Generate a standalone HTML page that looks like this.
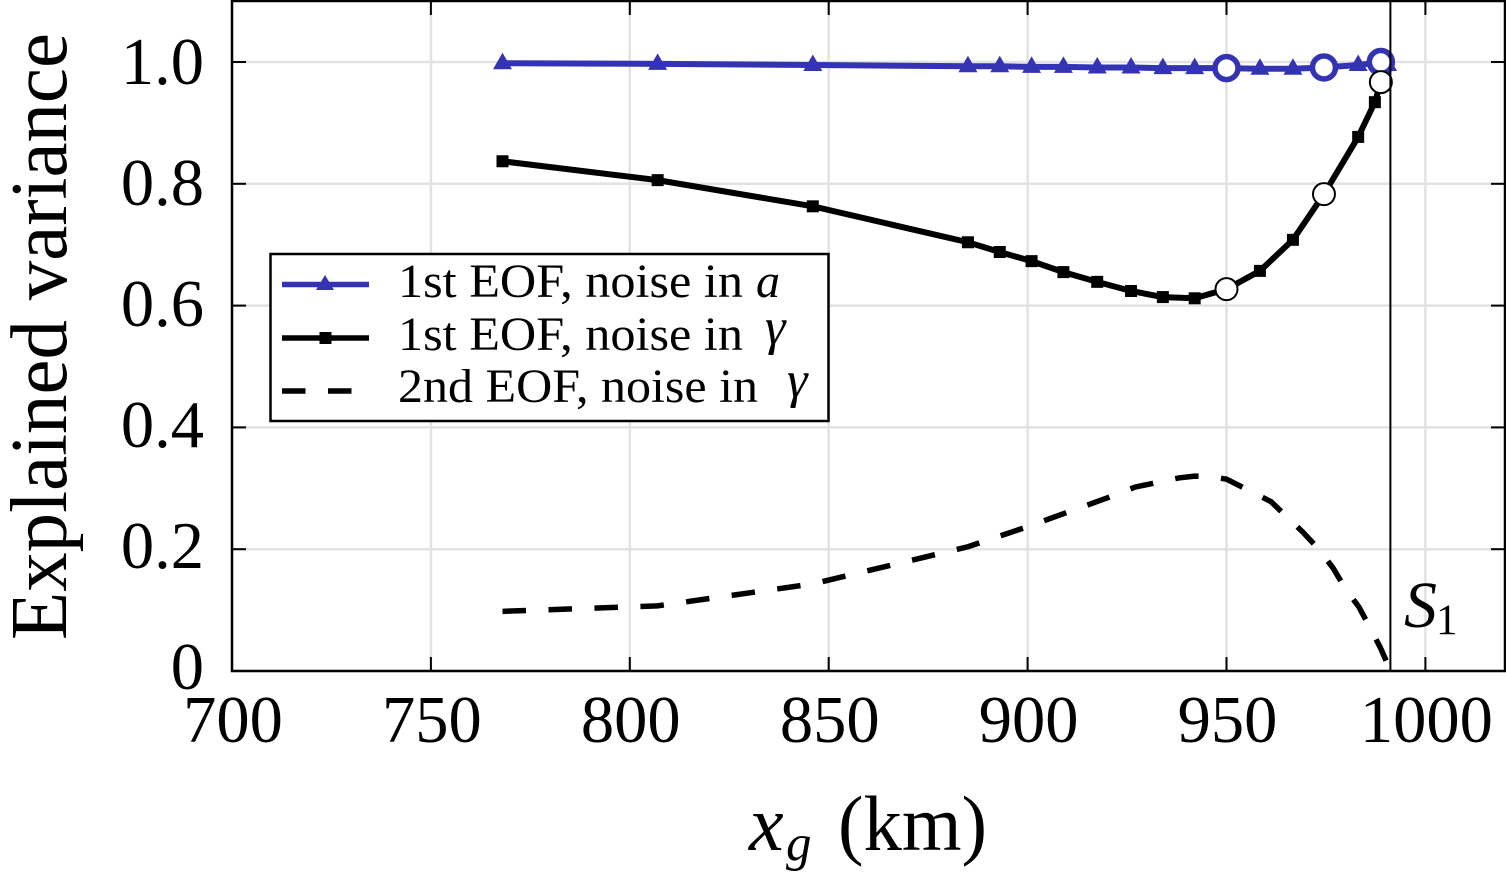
<!DOCTYPE html>
<html><head><meta charset="utf-8"><title>Explained variance</title>
<style>
html,body{margin:0;padding:0;background:#fff}
svg{display:block}
text{font-family:"Liberation Serif",serif;fill:#000}
</style></head>
<body>
<svg id="chart" width="1506" height="872" viewBox="0 0 1506 872" xmlns="http://www.w3.org/2000/svg">
<g id="grid"></g>
<g id="series"></g>
<g id="axes"></g>
<text transform="translate(66,640) rotate(-90)" font-size="80" textLength="607" lengthAdjust="spacingAndGlyphs">Explained variance</text>
<text x="749" y="850" font-size="78" font-style="italic">x</text>
<text x="786" y="860" font-size="51" font-style="italic">g</text>
<text x="838" y="850" font-size="78" textLength="149" lengthAdjust="spacingAndGlyphs">(km)</text>
<g>
<text x="1404" y="627" font-size="66" font-style="italic">S</text>
<text x="1436" y="634" font-size="43">1</text>
</g>
<g>
<rect x="270.5" y="254" width="558" height="167" fill="#fff" stroke="#000" stroke-width="2.5"/>
<g>
<line x1="282" x2="369" y1="284.500" y2="284.500" stroke="#3333b3" stroke-width="5.500"/>
<polygon points="316,290 334,290 325,275" fill="#3333b3"/>
<text x="398" y="297" font-size="47.500" textLength="345" lengthAdjust="spacingAndGlyphs">1st EOF, noise in</text>
<text x="756" y="297" font-size="47.500" font-style="italic" textLength="24" lengthAdjust="spacingAndGlyphs">a</text>
</g>
<g>
<line x1="282" x2="369" y1="338" y2="338" stroke="#000" stroke-width="5.500"/>
<rect x="319.500" y="332" width="12" height="12" fill="#000"/>
<text x="398" y="350" font-size="47.500" textLength="345" lengthAdjust="spacingAndGlyphs">1st EOF, noise in</text>
<text x="765" y="344" font-size="52" font-style="italic">γ</text>
</g>
<g>
<line x1="282" x2="352" y1="391" y2="391" stroke="#000" stroke-width="5.500" stroke-dasharray="23.500 22.500"/>
<text x="398" y="402" font-size="47.500" textLength="360" lengthAdjust="spacingAndGlyphs">2nd EOF, noise in</text>
<text x="787" y="397" font-size="52" font-style="italic">γ</text>
</g>
</g>
</svg>
<script>
const xTicks = [700, 750, 800, 850, 900, 950, 1000];
const yTicks = [0, 0.2, 0.4, 0.6, 0.8, 1.0];
const yTickLabels = ['0', '0.2', '0.4', '0.6', '0.8', '1.0'];
const blueKm = [768, 807, 846, 885, 893, 901, 909, 917.5, 926, 934, 942, 950, 958.4, 966.7, 974.5, 983.1, 988.8, 990.5];
const blueValues = [0.998, 0.997, 0.995, 0.993, 0.993, 0.992, 0.992, 0.991, 0.991, 0.990, 0.990, 0.990, 0.989, 0.989, 0.991, 0.995, 1.0, 0.995];
const blackKm = [768, 807, 846, 885, 893, 901, 909, 917.5, 926, 934, 942, 950, 958.4, 966.7, 974.5, 983.1, 987.3, 988.8];
const blackValues = [0.837, 0.806, 0.763, 0.704, 0.688, 0.673, 0.655, 0.639, 0.624, 0.614, 0.612, 0.627, 0.657, 0.708, 0.783, 0.877, 0.934, 0.967];
const dashedKm = [768, 807, 846, 885, 900, 922, 927, 938, 942, 946, 950, 955.5, 961.2, 965.2, 969.2, 973.2, 976.8, 979.8, 983.3, 986.1, 988.7, 990.8];
const dashedValues = [0.098, 0.107, 0.143, 0.204, 0.237, 0.289, 0.302, 0.317, 0.320, 0.319, 0.315, 0.297, 0.278, 0.253, 0.228, 0.200, 0.169, 0.136, 0.105, 0.071, 0.038, 0.007];
const circleKm = [950, 974.5, 988.8];
const blueCircleValues = [0.990, 0.991, 1.0];
const blackCircleValues = [0.627, 0.783, 0.967];
const shockKm = 991.2;

const NS = 'http://www.w3.org/2000/svg';
const xPos = function (v) { return 232 + (v - 700) * 3.978; };
const yPos = function (v) { return 671 - v * 609; };
const L = 232, R = 1505, T = 1, B = 671;
function mk(parent, tag, attrs) {
  const e = document.createElementNS(NS, tag);
  for (const k in attrs) e.setAttribute(k, attrs[k]);
  parent.appendChild(e);
  return e;
}
const grid = document.getElementById('grid');
const axes = document.getElementById('axes');
const series = document.getElementById('series');

xTicks.forEach(function (t) {
  const g = mk(grid, 'line', { x1: xPos(t), x2: xPos(t), y1: T, y2: B, stroke: '#e2e2e2', 'stroke-width': 2.5 });
  
  
});
yTicks.forEach(function (t) {
  const g = mk(grid, 'line', { x1: L, x2: R, y1: yPos(t), y2: yPos(t), stroke: '#e2e2e2', 'stroke-width': 2.5 });
  
  
});

function pts(xs, ys) {
  return xs.map(function (x, i) { return xPos(x) + ',' + yPos(ys[i]); }).join(' ');
}
const blueLine = mk(series, 'polyline', { points: pts(blueKm, blueValues), fill: 'none', stroke: '#3333b3', 'stroke-width': 6 });


blueKm.forEach(function (x, i) {
  const px = xPos(x), py = yPos(blueValues[i]);
  const m = mk(series, 'polygon', { points: (px - 9.5) + ',' + (py + 6) + ' ' + (px + 9.5) + ',' + (py + 6) + ' ' + px + ',' + (py - 10.5), fill: '#3333b3' });
  
  
});
const dashLine = mk(series, 'polyline', { points: pts(dashedKm, dashedValues), fill: 'none', stroke: '#000', 'stroke-width': 5.5, 'stroke-dasharray': '23.5 22.5' });


const blackLine = mk(series, 'polyline', { points: pts(blackKm, blackValues), fill: 'none', stroke: '#000', 'stroke-width': 6 });


blackKm.forEach(function (x, i) {
  const m = mk(series, 'rect', { x: xPos(x) - 6, y: yPos(blackValues[i]) - 6, width: 12, height: 12, fill: '#000' });
  
  
});
circleKm.forEach(function (x, i) {
  const c = mk(series, 'circle', { cx: xPos(x), cy: yPos(blueCircleValues[i]), r: 11.5, fill: '#fff', stroke: '#3333b3', 'stroke-width': 5.5 });
  
  
});
circleKm.forEach(function (x, i) {
  const c = mk(series, 'circle', { cx: xPos(x), cy: yPos(blackCircleValues[i]), r: 11, fill: '#fff', stroke: '#000', 'stroke-width': 2 });
  
  
});

const shock = mk(axes, 'line', { x1: xPos(shockKm), x2: xPos(shockKm), y1: T, y2: B, stroke: '#000', 'stroke-width': 2 });



const frame = mk(axes, 'rect', { x: L, y: T, width: R - L, height: B - T, fill: 'none', stroke: '#000', 'stroke-width': 2.5 });



xTicks.forEach(function (t) {
  const tb = mk(axes, 'line', { x1: xPos(t), x2: xPos(t), y1: B, y2: B - 14, stroke: '#000', 'stroke-width': 2 });
  
  
  const tt = mk(axes, 'line', { x1: xPos(t), x2: xPos(t), y1: T, y2: T + 14, stroke: '#000', 'stroke-width': 2 });
  
  
  const lb = mk(axes, 'text', { x: xPos(t) + 1, y: 742, 'font-size': 66.5, 'text-anchor': 'middle' });
  
  
  lb.textContent = String(t);
});
yTicks.forEach(function (t, i) {
  const tl = mk(axes, 'line', { x1: L, x2: L + 14, y1: yPos(t), y2: yPos(t), stroke: '#000', 'stroke-width': 2 });
  
  
  const tr = mk(axes, 'line', { x1: R, x2: R - 14, y1: yPos(t), y2: yPos(t), stroke: '#000', 'stroke-width': 2 });
  
  
  const lb = mk(axes, 'text', { x: 204, y: yPos(t) + 18 + 4 * t, 'font-size': 66.5, 'text-anchor': 'end' });
  
  
  lb.textContent = yTickLabels[i];
});
</script>
</body></html>
